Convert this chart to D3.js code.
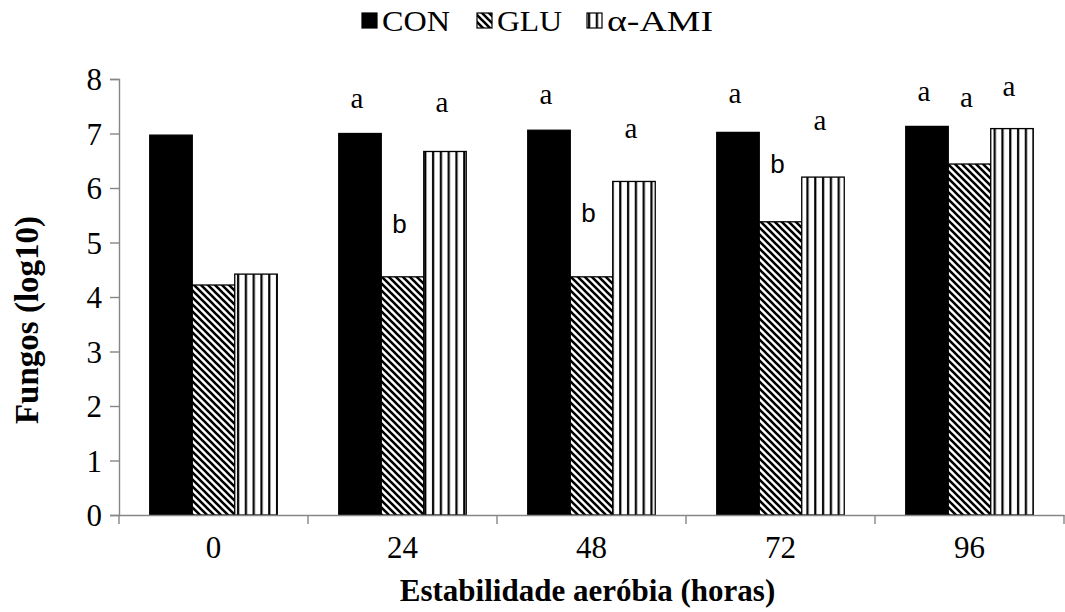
<!DOCTYPE html>
<html><head><meta charset="utf-8">
<script src="https://cdn.jsdelivr.net/npm/d3@7"></script>
<style>
html,body{margin:0;padding:0;background:#fff;}
svg{display:block;}
.serif{font-family:"Liberation Serif","Times New Roman",Times,"DejaVu Serif",serif;}
.sans{font-family:"Liberation Sans",Arial,sans-serif;}
</style></head>
<body>
<script>
// ---- data ----
const categories = ["0", "24", "48", "72", "96"];
const seriesNames = ["CON", "GLU", "α-AMI"];
const valuesCON = [6.97, 7.00, 7.06, 7.02, 7.13];
const valuesGLU = [4.22, 4.37, 4.37, 5.38, 6.44];
const valuesAMI = [4.42, 6.67, 6.12, 6.20, 7.09];
const yTicks = [0, 1, 2, 3, 4, 5, 6, 7, 8];
// significance letters: category, series, letter, height in data units
const letterCat = ["24", "24", "24", "48", "48", "48", "72", "72", "72", "96", "96", "96"];
const letterSer = ["CON", "GLU", "α-AMI", "CON", "GLU", "α-AMI", "CON", "GLU", "α-AMI", "CON", "GLU", "α-AMI"];
const letterTxt = ["a", "b", "a", "a", "b", "a", "a", "b", "a", "a", "a", "a"];
const letterY = [7.47, 5.17, 7.39, 7.54, 5.38, 6.92, 7.56, 6.28, 7.06, 7.60, 7.49, 7.69];

const W = 1065, H = 612;
const margin = {left: 119, right: 1, top: 79, bottom: 97};
const svg = d3.select("body").append("svg").attr("width", W).attr("height", H);

const defs = svg.append("defs");
const pd = defs.append("pattern").attr("id", "diag").attr("patternUnits", "userSpaceOnUse")
  .attr("width", 7).attr("height", 7);
pd.append("rect").attr("width", 7).attr("height", 7).attr("fill", "#fff");
pd.append("path").attr("d", "M-1,-1 L8,8 M-1,6 L1,8 M6,-1 L8,1")
  .attr("stroke", "#000").attr("stroke-width", 2.6);
const pv = defs.append("pattern").attr("id", "vert").attr("patternUnits", "userSpaceOnUse")
  .attr("width", 7.8).attr("height", 10);
pv.append("rect").attr("width", 7.8).attr("height", 10).attr("fill", "#fff");
pv.append("rect").attr("x", 3).attr("width", 2.2).attr("height", 10).attr("fill", "#000");

const fills = {"CON": "#000", "GLU": "url(#diag)", "α-AMI": "url(#vert)"};
const seriesVals = {"CON": valuesCON, "GLU": valuesGLU, "α-AMI": valuesAMI};

const x0 = d3.scaleBand().domain(categories).range([margin.left, W - margin.right]).padding(0);
const x1 = d3.scaleBand().domain(seriesNames).range([0, x0.bandwidth()]).paddingInner(0).paddingOuter(0.7235);
const y = d3.scaleLinear().domain([0, 8]).range([H - margin.bottom, margin.top]);

const axisColor = "#868686";
// bars
const rows = [];
categories.forEach((c, i) => seriesNames.forEach(s => rows.push({c, s, v: seriesVals[s][i]})));
svg.append("g").selectAll("rect").data(rows).join("rect")
  .attr("x", d => x0(d.c) + x1(d.s))
  .attr("y", d => y(d.v))
  .attr("width", x1.bandwidth())
  .attr("height", d => y(0) - y(d.v))
  .attr("fill", d => fills[d.s])
  .attr("stroke", "#000").attr("stroke-width", 1.3);

// y axis
const yAxis = svg.append("g").attr("transform", `translate(${margin.left},0)`)
  .call(d3.axisLeft(y).tickValues(yTicks).tickSize(9).tickPadding(8).tickFormat(d3.format("d")));
yAxis.attr("font-family", null).attr("font-size", null);
yAxis.selectAll("path,line").attr("stroke", axisColor).attr("stroke-width", 1.4);
yAxis.selectAll("text").attr("class", "serif")
  .attr("font-size", 31).attr("fill", "#000").attr("dy", "0.34em");

// x axis
const xAxis = svg.append("g").attr("transform", `translate(0,${y(0)})`)
  .call(d3.axisBottom(x0).tickSize(0).tickPadding(21).tickSizeOuter(0));
xAxis.attr("font-family", null).attr("font-size", null);
xAxis.select("path").attr("stroke", axisColor).attr("stroke-width", 1.4);
xAxis.selectAll("text").attr("class", "serif")
  .attr("font-size", 31).attr("fill", "#000");
const bounds = categories.map(c => x0(c)).concat([x0.range()[1]]);
xAxis.selectAll("line.bt").data(bounds).join("line").attr("class", "bt")
  .attr("x1", d => d).attr("x2", d => d).attr("y1", 0).attr("y2", 9)
  .attr("stroke", axisColor).attr("stroke-width", 1.4);

// letters
svg.append("g").selectAll("text").data(letterTxt.map((t, i) => ({t, c: letterCat[i], s: letterSer[i], v: letterY[i]})))
  .join("text")
  .attr("class", d => d.t === "b" ? "sans" : "serif")
  .attr("x", d => x0(d.c) + x1(d.s) + x1.bandwidth() / 2 - 3)
  .attr("y", d => y(d.v))
  .attr("text-anchor", "middle")
  .attr("font-size", d => d.t === "b" ? 26 : 29)
  .text(d => d.t);

// axis titles
svg.append("text").attr("class", "serif").attr("transform", `translate(38,320) rotate(-90)`)
  .attr("text-anchor", "middle")
  .attr("font-weight", "bold").attr("font-size", 33).text("Fungos (log10)");
svg.append("text").attr("class", "serif").attr("x", (margin.left + W - margin.right) / 2 - 4).attr("y", 601)
  .attr("text-anchor", "middle")
  .attr("font-weight", "bold").attr("font-size", 31).text("Estabilidade aeróbia (horas)");

// legend
const legX = [362, 477, 587];
const legW = [68, 65, 106];
const leg = svg.append("g");
seriesNames.forEach((s, i) => {
  leg.append("rect").attr("x", legX[i]).attr("y", 13).attr("width", 15).attr("height", 15)
    .attr("fill", fills[s]).attr("stroke", "#000").attr("stroke-width", 1.2);
  leg.append("text").attr("class", "serif").attr("x", legX[i] + 20).attr("y", 31)
    .attr("font-size", 29).attr("textLength", legW[i]).attr("lengthAdjust", "spacingAndGlyphs").text(s);
});
</script>
</body></html>
